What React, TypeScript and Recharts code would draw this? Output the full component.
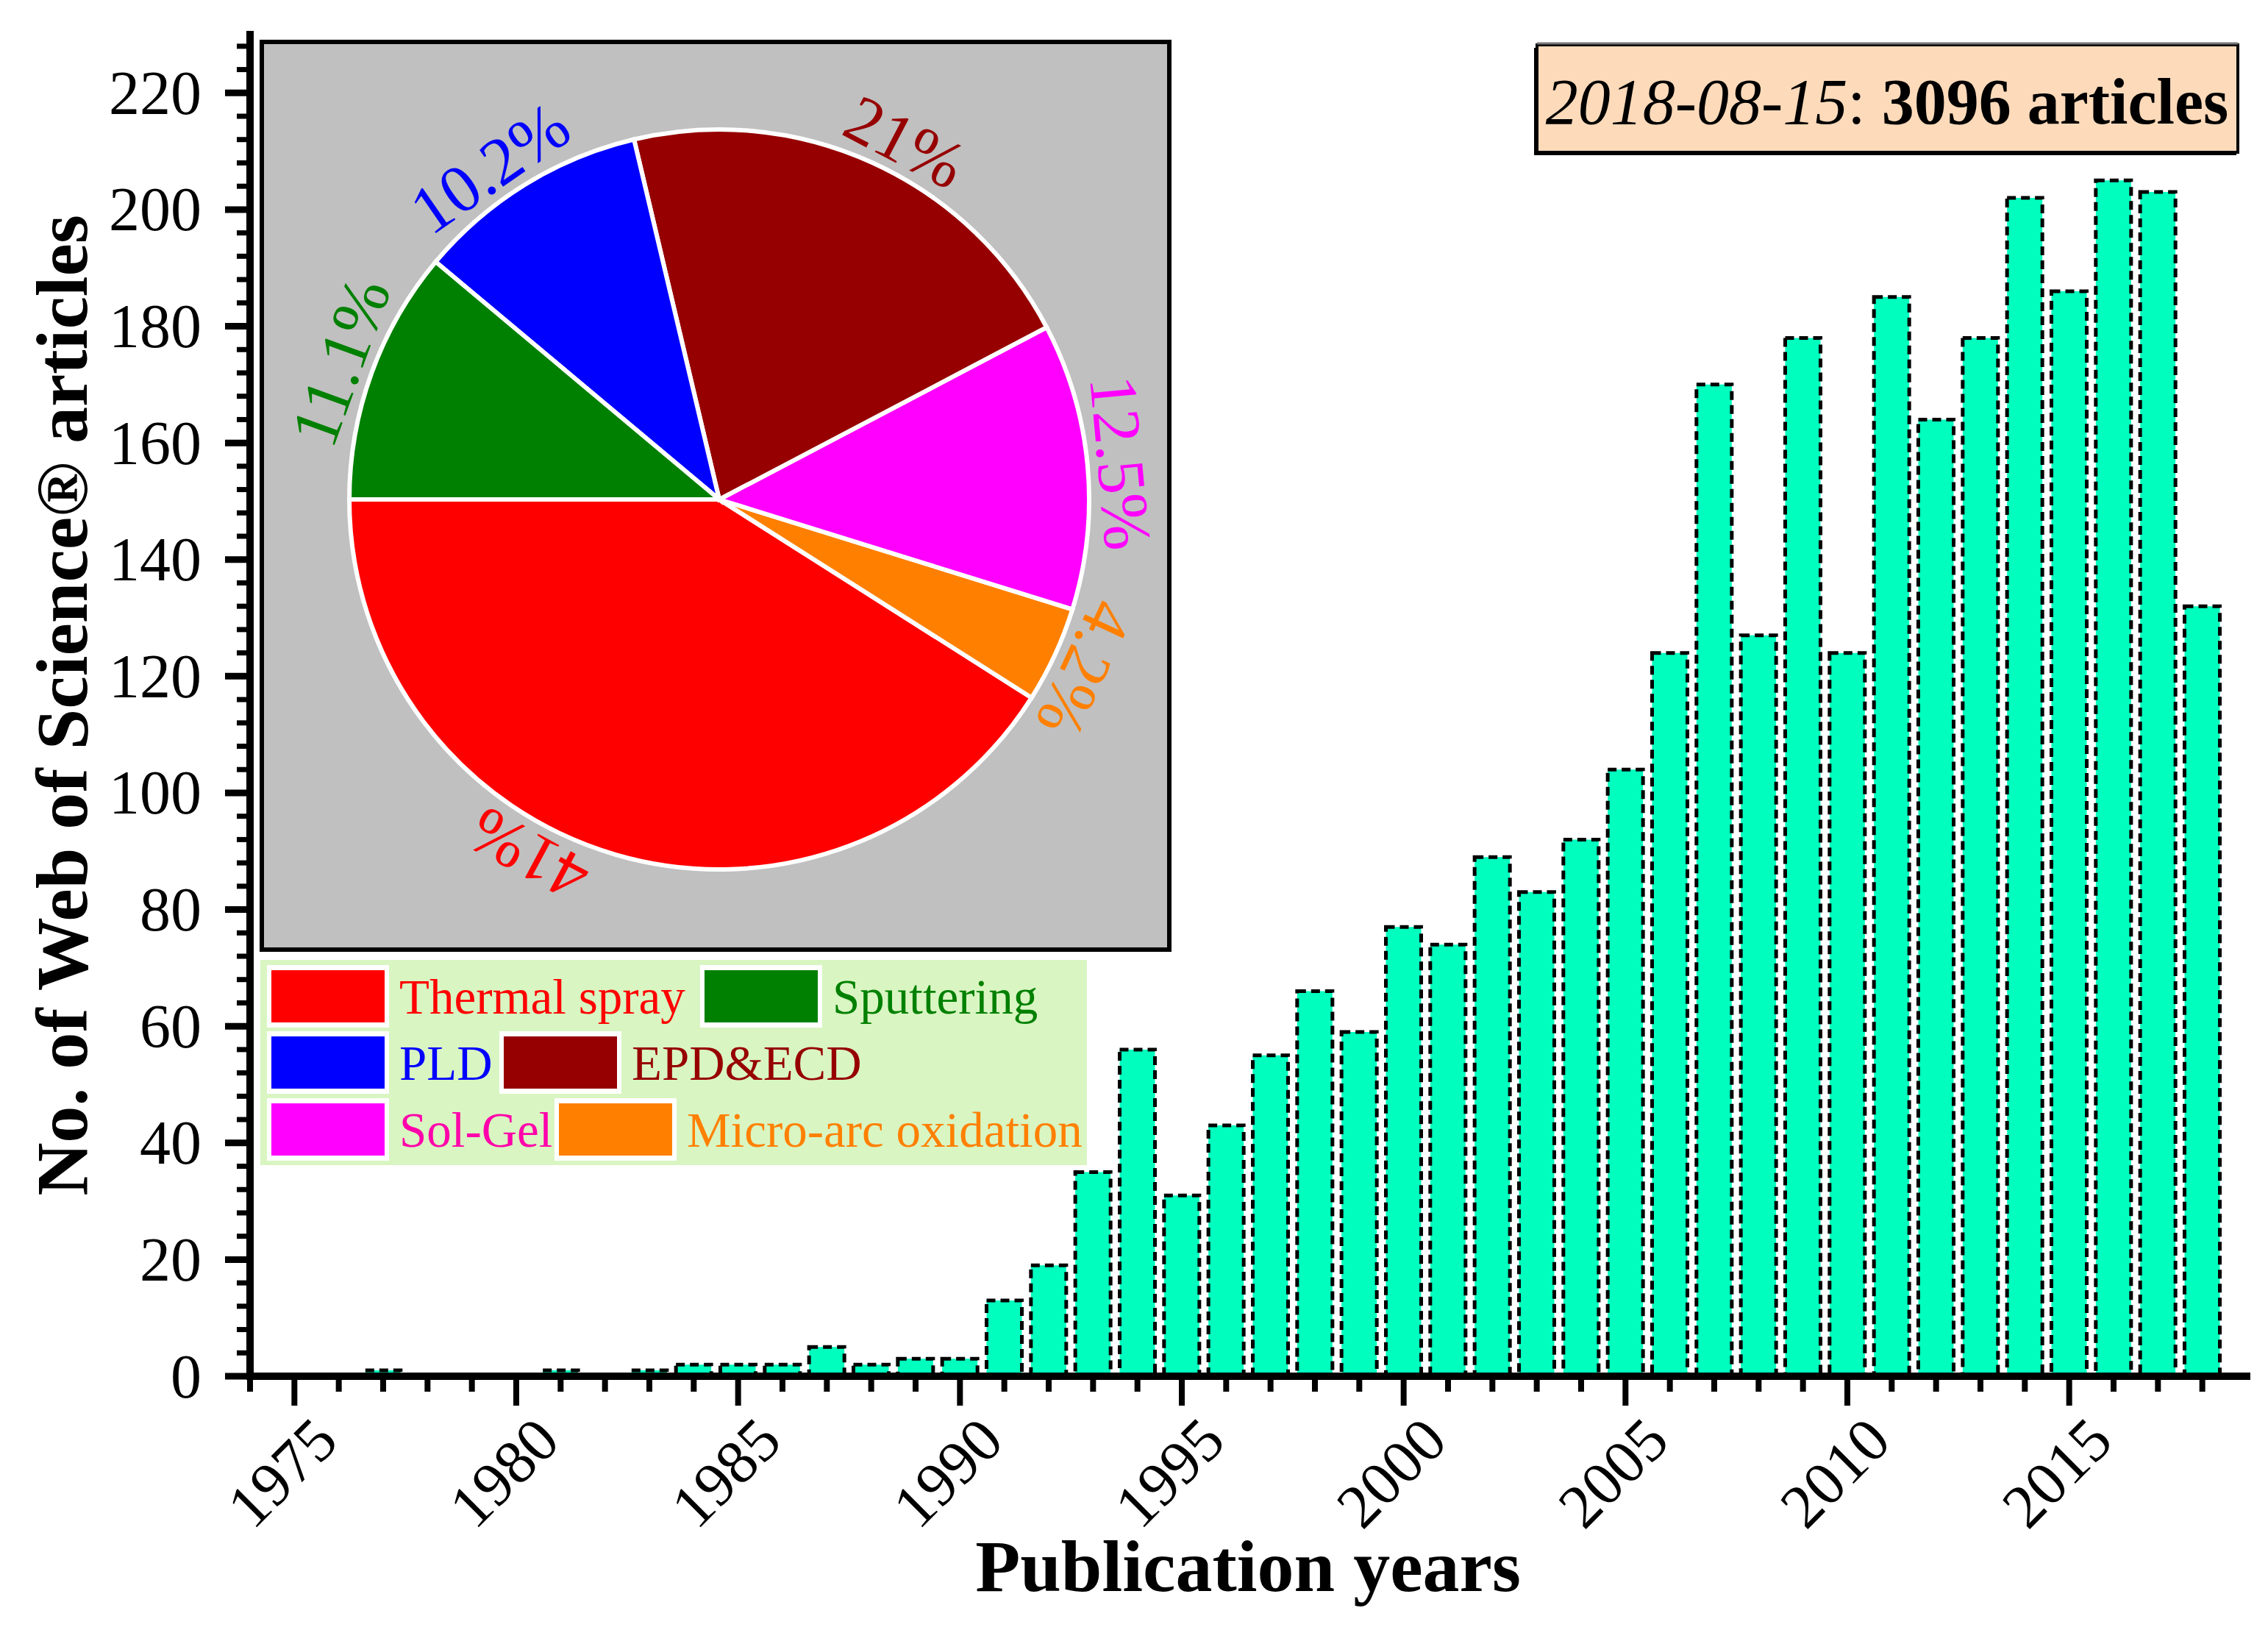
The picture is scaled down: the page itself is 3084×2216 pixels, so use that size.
import React from 'react';
import { BarChart, Bar, XAxis, YAxis, PieChart, Pie, Cell } from 'recharts';

// ---------- data ----------
const years = [
  1975, 1976, 1977, 1978, 1979, 1980, 1981, 1982, 1983, 1984,
  1985, 1986, 1987, 1988, 1989, 1990, 1991, 1992, 1993, 1994,
  1995, 1996, 1997, 1998, 1999, 2000, 2001, 2002, 2003, 2004,
  2005, 2006, 2007, 2008, 2009, 2010, 2011, 2012, 2013, 2014,
  2015, 2016, 2017, 2018,
];
const articles = [
  0, 0, 1, 0, 0, 0, 1, 0, 1, 2,
  2, 2, 5, 2, 3, 3, 13, 19, 35, 56,
  31, 43, 55, 66, 59, 77, 74, 89, 83, 92,
  104, 124, 170, 127, 178, 124, 185, 164, 178, 202,
  186, 205, 203, 132,
];
const xLabelYears = [1975, 1980, 1985, 1990, 1995, 2000, 2005, 2010, 2015];
const yLabelValues = [0, 20, 40, 60, 80, 100, 120, 140, 160, 180, 200, 220];

// pie (drawn counter-clockwise starting at 9 o'clock)
const methods = ['Thermal spray', 'Micro-arc oxidation', 'Sol-Gel', 'EPD&ECD', 'PLD', 'Sputtering'];
const shares = [41, 4.2, 12.5, 21, 10.2, 11.1];
const sliceColors = ['#ff0000', '#ff8000', '#ff00ff', '#960000', '#0000ff', '#008000'];

// legend layout order
const legendRows = [
  ['Thermal spray', 'Sputtering'],
  ['PLD', 'EPD&ECD'],
  ['Sol-Gel', 'Micro-arc oxidation'],
];

const barData = years.map((y, i) => ({ year: y, count: articles[i] }));
const pieData = methods.map((m, i) => ({ name: m, value: shares[i] }));

// minor tick sets (axis decoration)
const xTicks = Array.from({ length: 45 }, (_, i) => 1974 + i);
const yTicks = Array.from({ length: 58 }, (_, i) => i * 4);

const FONT = "'Liberation Serif', 'Times New Roman', serif";

const XTick = (props: any) => {
  const { x, y, payload } = props;
  const v = payload.value;
  const major = xLabelYears.includes(v);
  return (
    <g>
      <line x1={x} x2={x} y1={y} y2={y + (major ? 40 : 21)} stroke="#000" strokeWidth={8} />
      {major && (
        <text
          transform={`translate(${x - 17},${y + 131}) rotate(-45)`}
          textAnchor="middle"
          dominantBaseline="central"
          fontSize={84}
          fontFamily={FONT}
          fill="#000"
        >
          {v}
        </text>
      )}
    </g>
  );
};

const YTick = (props: any) => {
  const { x, y, payload } = props;
  const v = payload.value;
  const major = yLabelValues.includes(v);
  return (
    <g>
      <line x1={x - (major ? 34 : 18)} x2={x} y1={y} y2={y} stroke="#000" strokeWidth={major ? 9 : 7} />
      {major && (
        <text x={x - 66} y={y} textAnchor="end" dominantBaseline="central" fontSize={84} fontFamily={FONT} fill="#000">
          {v}
        </text>
      )}
    </g>
  );
};

const labelNudge: Record<string, number> = { 'Thermal spray': -12, 'EPD&ECD': -3, PLD: 3 };

const renderPieLabel = (p: any) => {
  const i = p.index;
  const ang = p.midAngle + (labelNudge[methods[i]] ?? 0);
  const R = p.outerRadius + 45;
  const rad = Math.PI / 180;
  const x = p.cx + R * Math.cos(-ang * rad);
  const y = p.cy + R * Math.sin(-ang * rad);
  const rot = 90 - ang;
  return (
    <text
      key={`lbl-${i}`}
      x={x}
      y={y}
      transform={`rotate(${rot} ${x} ${y})`}
      textAnchor="middle"
      dominantBaseline="central"
      fill={sliceColors[i]}
      fontSize={92}
      fontFamily={FONT}
    >
      {`${shares[i]}%`}
    </text>
  );
};

const legendTextColor: Record<string, string> = {
  'Thermal spray': '#ff0000',
  Sputtering: '#008000',
  PLD: '#0000ff',
  'EPD&ECD': '#960000',
  'Sol-Gel': '#ff00aa',
  'Micro-arc oxidation': '#ff8000',
};

// legend geometry (layout only)
const legendX = [
  [363, 952],
  [363, 679],
  [363, 754],
];
const legendY = [1312, 1402, 1493];

export default function App() {
  return (
    <div style={{ position: 'absolute', left: 0, top: 0, width: 3084, height: 2216, background: '#fff', overflow: 'hidden' }}>
      <div style={{ position: 'absolute', left: 0, top: 0 }}>
        <BarChart width={3084} height={2216} data={barData} margin={{ top: 47, right: 29, bottom: 0, left: 0 }}>
          <XAxis
            xAxisId="b"
            dataKey="year"
            type="number"
            domain={[1974, 2019]}
            ticks={xTicks}
            interval={0}
            tick={<XTick />}
            tickLine={false}
            tickSize={0}
            tickMargin={0}
            height={345}
            axisLine={{ stroke: '#000', strokeWidth: 10, strokeLinecap: 'square' }}
            allowDataOverflow
          />
          <XAxis
            xAxisId="t"
            orientation="top"
            dataKey="year"
            type="number"
            domain={[1974, 2019]}
            tick={false}
            tickLine={false}
            height={0}
            axisLine={{ stroke: '#000', strokeWidth: 9, strokeLinecap: 'square' }}
            allowDataOverflow
          />
          <YAxis
            yAxisId="l"
            type="number"
            domain={[0, 230]}
            ticks={yTicks}
            interval={0}
            tick={<YTick />}
            tickLine={false}
            tickSize={0}
            tickMargin={0}
            width={340}
            axisLine={{ stroke: '#000', strokeWidth: 10, strokeLinecap: 'square' }}
            allowDataOverflow
          />
          <YAxis
            yAxisId="r"
            orientation="right"
            type="number"
            domain={[0, 230]}
            tick={false}
            tickLine={false}
            width={0}
            axisLine={{ stroke: '#000', strokeWidth: 9, strokeLinecap: 'square' }}
            allowDataOverflow
          />
          <Bar
            xAxisId="b"
            yAxisId="l"
            dataKey="count"
            barSize={48}
            fill="#00ffbf"
            stroke="#000"
            strokeWidth={5}
            strokeDasharray="12 7"
            isAnimationActive={false}
          />
        </BarChart>
      </div>

      <svg
        width={3084}
        height={2216}
        style={{ position: 'absolute', left: 0, top: 0, pointerEvents: 'none' }}
      >
        {/* axis titles */}
        <text
          transform="translate(118,959) rotate(-90)"
          textAnchor="middle"
          fontSize={100}
          fontWeight="bold"
          fontFamily={FONT}
          fill="#000"
        >
          No. of Web of Science® articles
        </text>
        <text x={1697} y={2163} textAnchor="middle" fontSize={100} fontWeight="bold" fontFamily={FONT} fill="#000">
          Publication years
        </text>

        {/* date box */}
        <rect x={2086} y={65} width={955} height={146} fill="#000" />
        <rect x={2090} y={61} width={953} height={146} fill="#fddaba" stroke="#000" strokeWidth={4} />
        <line x1={2090} x2={3043} y1={59} y2={59} stroke="#777" strokeWidth={3} />
        <text x={2566} y={168} textAnchor="middle" fontSize={88} fontFamily={FONT} fill="#000">
          <tspan fontStyle="italic">2018-08-15</tspan>
          <tspan>: </tspan>
          <tspan fontWeight="bold">3096 articles</tspan>
        </text>

        {/* legend */}
        <rect x={354} y={1305} width={1124} height={279} fill="#d9f5c2" />
        {legendRows.map((row, r) =>
          row.map((name, c) => {
            const sx = legendX[r][c];
            const sy = legendY[r];
            const idx = methods.indexOf(name);
            return (
              <g key={name}>
                <rect x={sx} y={sy} width={166} height={85} fill="#fff" />
                <rect x={sx + 6} y={sy + 7} width={154} height={71} fill={sliceColors[idx]} />
                <text
                  x={sx + 180}
                  y={sy + 43}
                  dominantBaseline="central"
                  fontSize={67}
                  fontFamily={FONT}
                  fill={legendTextColor[name]}
                >
                  {name}
                </text>
              </g>
            );
          })
        )}
      </svg>

      <div
        style={{
          position: 'absolute',
          left: 353,
          top: 54,
          width: 1240,
          height: 1240,
          boxSizing: 'border-box',
          border: '6px solid #000',
          background: '#c0c0c0',
        }}
      >
        <PieChart width={1228} height={1228}>
          <Pie
            data={pieData}
            dataKey="value"
            nameKey="name"
            cx={614}
            cy={614}
            outerRadius={503}
            startAngle={180}
            endAngle={540}
            stroke="#fff"
            strokeWidth={6}
            label={renderPieLabel}
            labelLine={false}
            isAnimationActive={false}
          >
            {pieData.map((d, i) => (
              <Cell key={d.name} fill={sliceColors[i]} />
            ))}
          </Pie>
        </PieChart>
      </div>
    </div>
  );
}
